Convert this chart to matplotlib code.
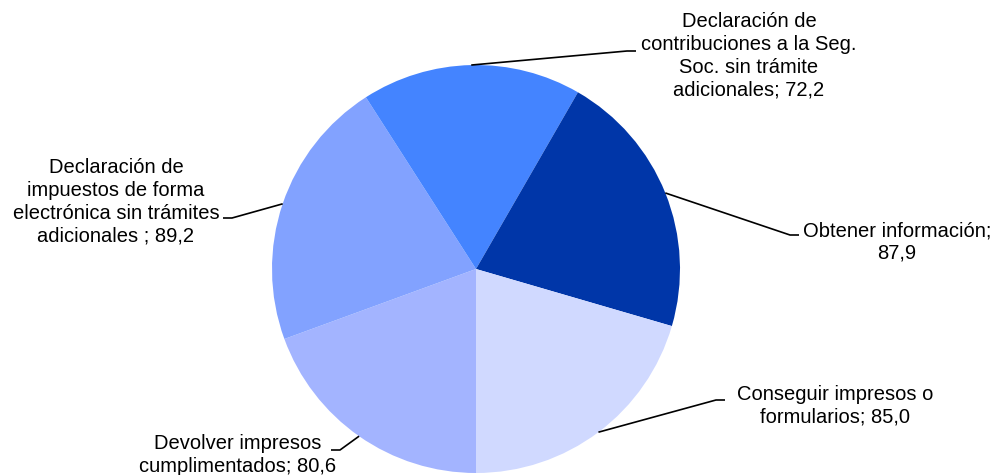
import numpy as np
import matplotlib.pyplot as plt

plt.rcParams['font.family'] = ['Liberation Sans', 'DejaVu Sans']

# data (clockwise from the bottom)
labels = [
    "Devolver impresos\ncumplimentados; 80,6",
    "Declaración de\nimpuestos de forma\nelectrónica sin trámites\nadicionales ; 89,2",
    "Declaración de\ncontribuciones a la Seg.\nSoc. sin trámite\nadicionales; 72,2",
    "Obtener información;\n87,9",
    "Conseguir impresos o\nformularios; 85,0",
]
values = [80.6, 89.2, 72.2, 87.9, 85.0]
colors = ["#A3B4FF", "#82A2FF", "#4484FF", "#0036A8", "#D0D9FF"]

# label text centres and leader-line elbows (pixel coords, y down)
text_pos = [(238, 455), (116, 202), (749, 56), (897, 242), (835, 406)]
elbow = [(340, 450), (232, 218), (627, 51), (790, 235), (716, 400)]
side = [-1, -1, 1, 1, 1]

W, H = 998, 475
cx, cy, r = 476, 269, 204

fig = plt.figure(figsize=(W / 100, H / 100), dpi=100)
ax = fig.add_axes([0, 0, 1, 1])

wedges, _ = ax.pie(values, colors=colors, startangle=270, counterclock=False,
                   center=(cx, H - cy), radius=r, frame=True,
                   wedgeprops=dict(linewidth=0))
ax.set_xlim(0, W)
ax.set_ylim(0, H)
ax.set_aspect('equal')
ax.axis('off')

for w, lab, tp, el, s in zip(wedges, labels, text_pos, elbow, side):
    ang = np.deg2rad((w.theta1 + w.theta2) / 2)
    px = cx + r * np.cos(ang)
    py = (H - cy) + r * np.sin(ang)
    ex, ey = el[0], H - el[1]
    ax.plot([px, ex, ex + 9 * s], [py, ey, ey], color='black', lw=1.2,
            solid_capstyle='butt')
    ax.text(tp[0], H - tp[1], lab, ha='center', va='center',
            multialignment='center', fontsize=14.5, linespacing=1.25)

fig.savefig('out.png', dpi=100)
